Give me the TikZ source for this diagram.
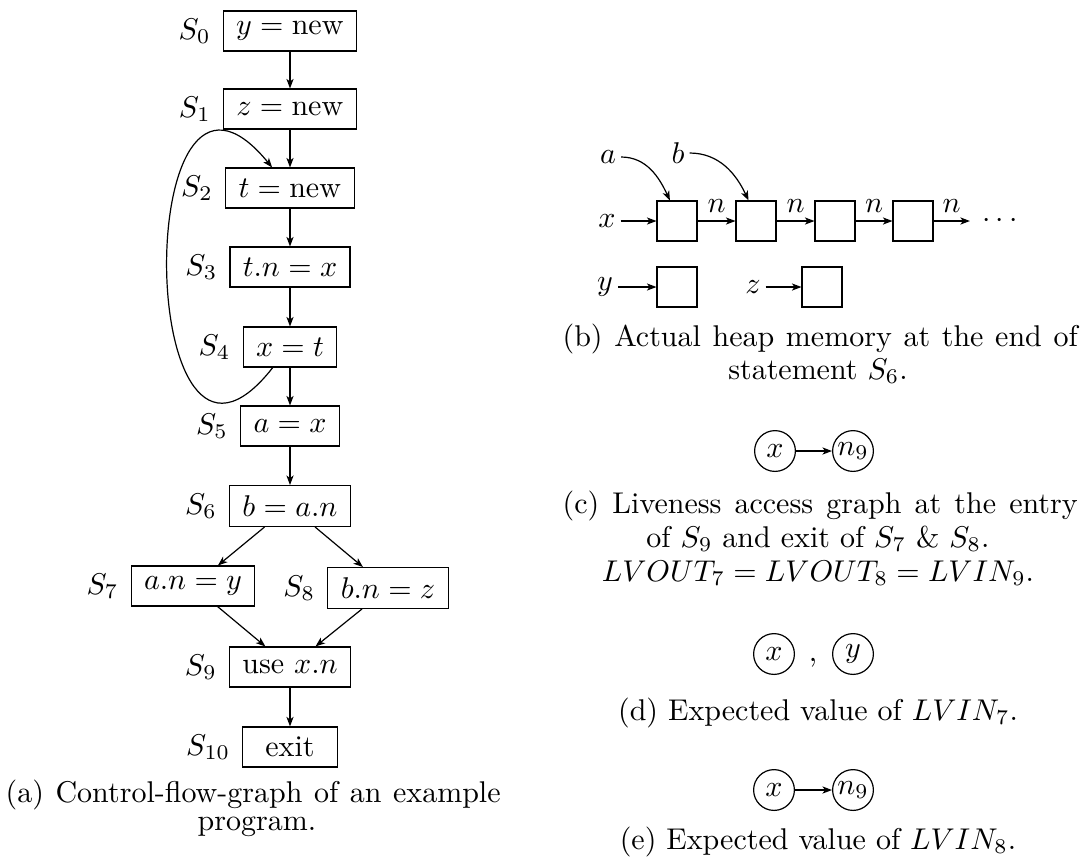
\documentclass[tikz,border=0pt]{standalone}
\usetikzlibrary{arrows.meta}
\begin{document}
\begin{tikzpicture}[x=0.33333pt,y=-0.33333pt,
  arr/.style={-{Stealth[length=3.2pt,width=2.4pt,inset=0.9pt]}},
  stmt/.style={draw, minimum height=13.3pt, inner xsep=4.3pt, inner ysep=3.33pt},
  slab/.style={label distance=0.5pt},
  cell/.style={draw, minimum size=13.3pt, inner sep=0pt},
  var/.style={inner sep=1.5pt},
  cnode/.style={draw, circle, minimum size=13.6pt, inner sep=0.5pt},
  captxt/.style={anchor=base, inner sep=0pt},
  captxtl/.style={anchor=base west, inner sep=0pt}]
\useasboundingbox (0,0) rectangle (1081,858);
% (a) control flow graph
\node[stmt, label={[slab]left:$S_0$}] (s0) at (290,31) {$y = \mathrm{new}$};
\node[stmt, label={[slab]left:$S_1$}] (s1) at (290,109) {$z = \mathrm{new}$};
\node[stmt, label={[slab]left:$S_2$}] (s2) at (290,188) {$t = \mathrm{new}$};
\node[stmt, label={[slab]left:$S_3$}] (s3) at (290,267) {$t.n = x$};
\node[stmt, label={[slab]left:$S_4$}] (s4) at (290,347) {$x = t$};
\node[stmt, label={[slab]left:$S_5$}] (s5) at (290,426) {$a = x$};
\node[stmt, label={[slab]left:$S_6$}] (s6) at (290,506) {$b = a.n$};
\node[stmt, label={[slab]left:$S_7$}] (s7) at (193,586) {$a.n = y$};
\node[stmt, label={[slab]left:$S_8$}] (s8) at (388,588) {$b.n = z$};
\node[stmt, label={[slab]left:$S_9$}] (s9) at (290,667) {use $x.n$};
\node[stmt, minimum width=31.5pt, label={[slab]left:$S_{10}$}] (s10) at (290,747) {exit};
\draw[arr] (s0) -- (s1);
\draw[arr] (s1) -- (s2);
\draw[arr] (s2) -- (s3);
\draw[arr] (s3) -- (s4);
\draw[arr] (s4) -- (s5);
\draw[arr] (s5) -- (s6);
\draw[arr] (s6) -- (s7);
\draw[arr] (s6) -- (s8);
\draw[arr] (s7) -- (s9);
\draw[arr] (s8) -- (s9);
\draw[arr] (s9) -- (s10);
\draw[arr] (s4.230) .. controls (134,545) and (130,-6) .. (s2.131);
\node[captxtl] (capa1) at (5,802) {\makebox[165pt][s]{(a) Control-flow-graph of an example}};
\node[captxt] (capa2) at (257,830) {program.};
% (b) heap
\node[var] (va) at (608,157) {$a$};
\node[var] (vb) at (678,153) {$b$};
\node[var] (vx) at (607,221) {$x$};
\node[var] (vy) at (605,287) {$y$};
\node[var] (vz) at (753,287) {$z$};
\node[cell] (h1) at (677,221) {};
\node[cell] (h2) at (756,221) {};
\node[cell] (h3) at (835,221) {};
\node[cell] (h4) at (913,221) {};
\node[cell] (hy) at (677,287) {};
\node[cell] (hz) at (822,287) {};
\node[inner sep=4pt] (dots) at (1000,221) {$\cdots$};
\draw[arr] (vx) -- (h1);
\draw[arr] (vy) -- (hy);
\draw[arr] (vz) -- (hz);
\draw[arr] (h1) -- node[above, inner sep=2.5pt] {$n$} (h2);
\draw[arr] (h2) -- node[above, inner sep=2.5pt] {$n$} (h3);
\draw[arr] (h3) -- node[above, inner sep=2.5pt] {$n$} (h4);
\draw[arr] (h4) -- node[above, inner sep=2.5pt] {$n$} (dots);
\draw[arr] (va.east) to[out=0, in=115] (h1.109);
\draw[arr] (vb.east) to[out=0, in=115] (h2.110);
\node[captxtl] (capb1) at (562,346) {\makebox[171.7pt][s]{(b) Actual heap memory at the end of}};
\node[captxt] (capb2) at (818,379) {statement $S_6$.};
% (c)
\node[cnode] (cx) at (775,451) {$x$};
\node[cnode] (cn) at (853,451) {$n_9$};
\draw[arr] (cx) -- (cn);
\node[captxtl] (capc1) at (562,513) {\makebox[171.7pt][s]{(c) Liveness access graph at the entry}};
\node[captxt] (capc2) at (818,547) {of $S_9$ and exit of $S_7$ \& $S_8$.};
\node[captxt] (capc3) at (818,581) {$LVOUT_7 = LVOUT_8 = LVIN_9$.};
% (d)
\node[cnode] (dx) at (774,654) {$x$};
\node[captxt] (comma) at (813,661) {,};
\node[cnode] (dy) at (853,654) {$y$};
\node[captxt] (capd) at (818,720) {(d) Expected value of $LVIN_7$.};
% (e)
\node[cnode] (ex) at (774,790) {$x$};
\node[cnode] (en) at (853,790) {$n_9$};
\draw[arr] (ex) -- (en);
\node[captxt] (cape) at (818,849) {(e) Expected value of $LVIN_8$.};
\end{tikzpicture}
\end{document}
